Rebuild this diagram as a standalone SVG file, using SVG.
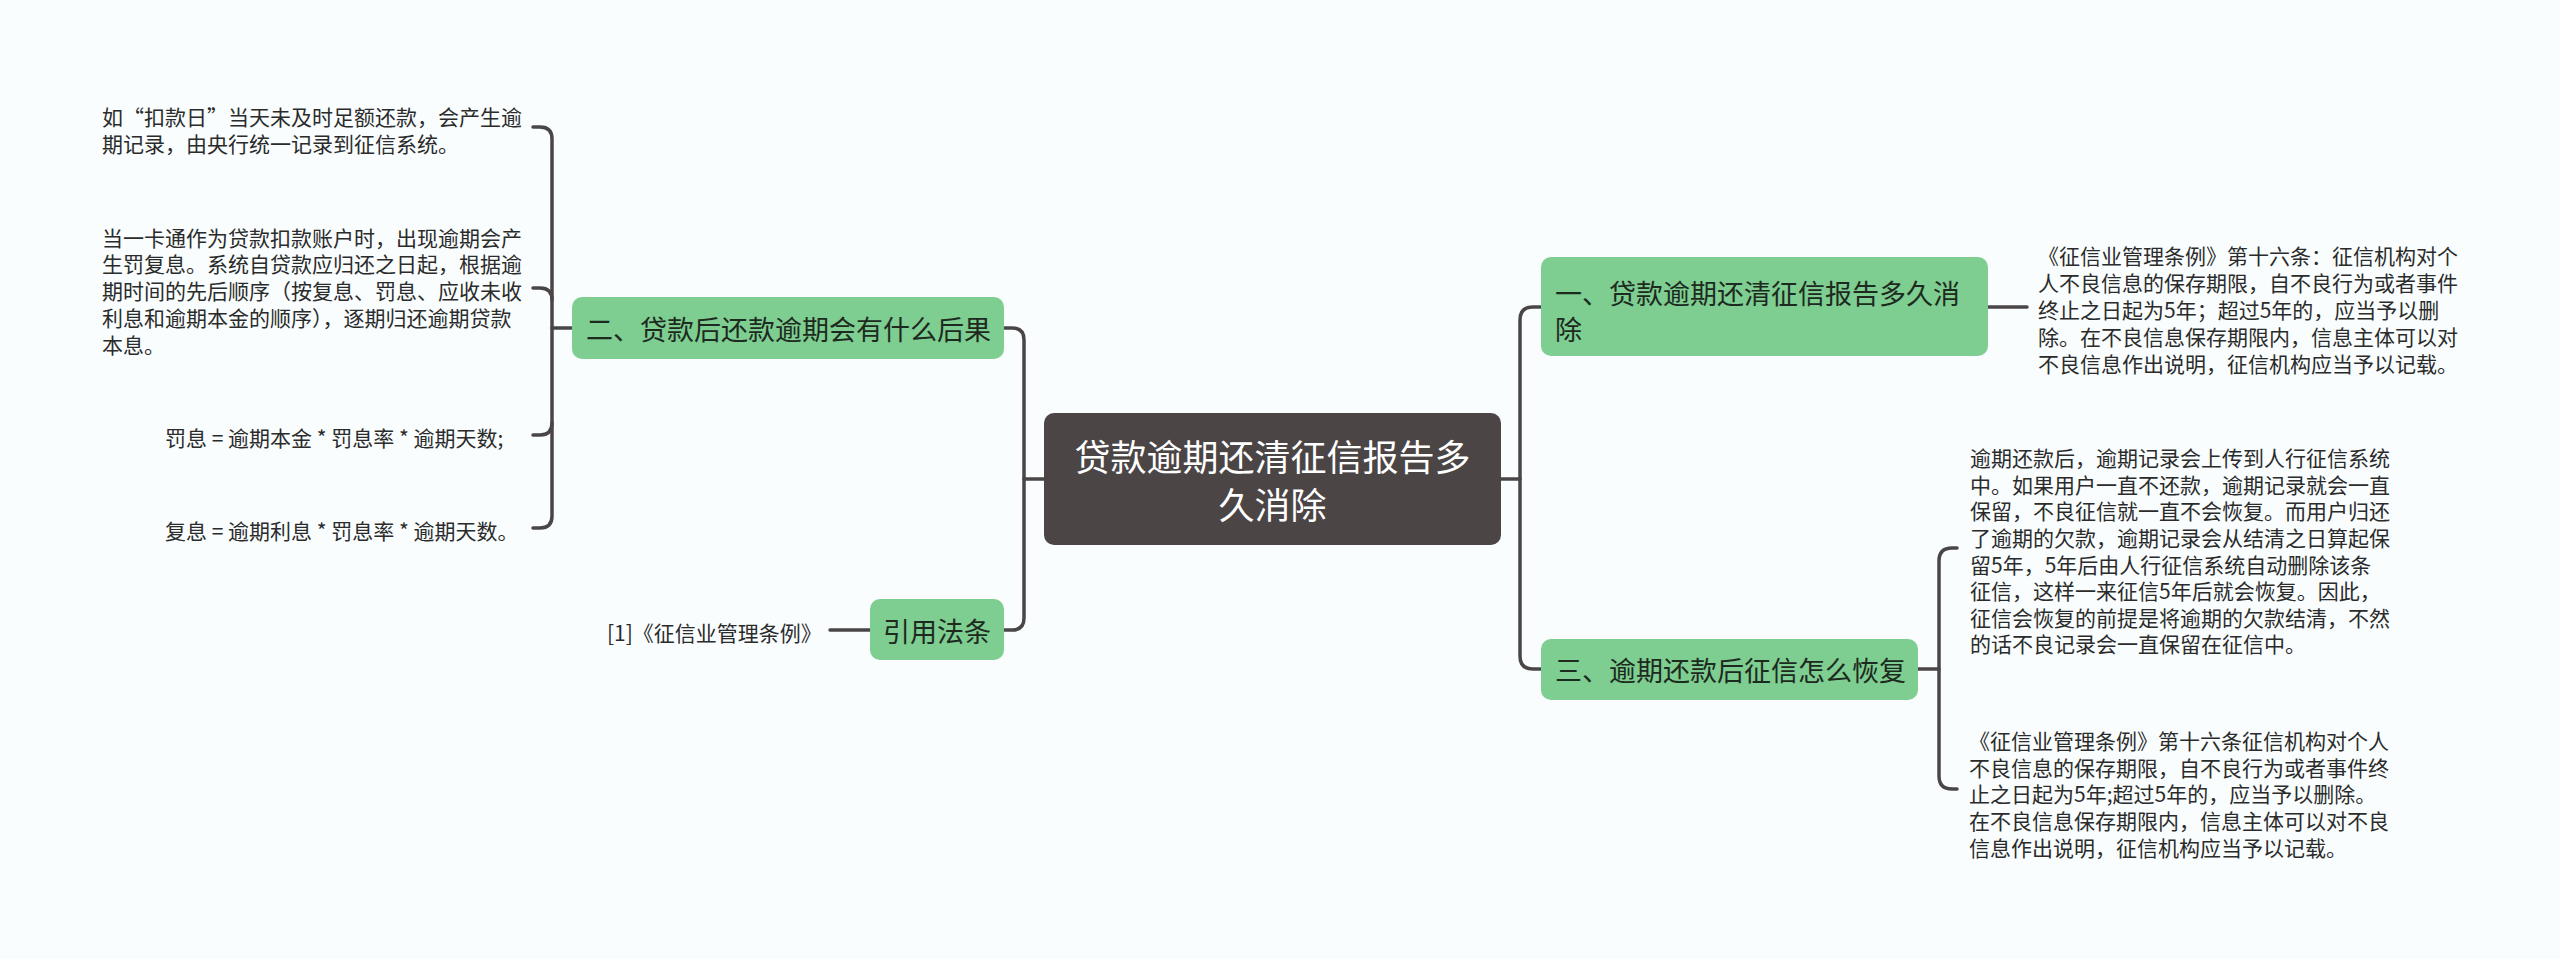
<svg xmlns="http://www.w3.org/2000/svg" width="2560" height="959" viewBox="0 0 2560 959">
<style>
text{font-family:"Noto Sans CJK SC","Noto Sans",sans-serif;dominant-baseline:central}
.leaf{font-size:21px;fill:#2b2b2b}
.sub{font-size:27px;fill:#1d2a20}
.root{font-size:36px;fill:#ffffff}
.gbox{fill:#7ecd91}
.conn{fill:none;stroke:#4a4546;stroke-width:3.5;stroke-linecap:round}
</style>
<rect width="2560" height="959" fill="#f9fdfe"/>
<g id="connectors">
<path class="conn" d="M1004,328 H1012 Q1024,328 1024,340 V618 Q1024,630 1012,630 H1004"/>
<path class="conn" d="M1024,479 H1044"/>
<path class="conn" d="M1541,307 H1533 Q1520,307 1520,320 V656 Q1520,669 1533,669 H1541"/>
<path class="conn" d="M1501,479 H1520"/>
<path class="conn" d="M1988,307 H2027"/>
<path class="conn" d="M1918,669 H1939"/>
<path class="conn" d="M1957,548 H1952 Q1939,548 1939,561 V776 Q1939,789 1952,789 H1957"/>
<path class="conn" d="M572,328 H552"/>
<path class="conn" d="M533,127 H540 Q552,127 552,139 V516 Q552,528 540,528 H533"/>
<path class="conn" d="M533,288 H540 Q552,288 552,300"/>
<path class="conn" d="M533,435 H540 Q552,435 552,423"/>
<path class="conn" d="M830,630 H870"/>
</g>
<g id="root">
<rect x="1044" y="413" width="457" height="132" rx="10" fill="#4b4546"/>
<text class="root" x="1272.5" y="455" text-anchor="middle">贷款逾期还清征信报告多</text>
<text class="root" x="1272.5" y="503" text-anchor="middle">久消除</text>
</g>
<g id="node1">
<rect class="gbox" x="1541" y="257" width="447" height="99" rx="10"/>
<text class="sub" x="1555" y="292">一、贷款逾期还清征信报告多久消</text>
<text class="sub" x="1555" y="328">除</text>
</g>
<g id="node1-text">
<text class="leaf" x="2038" y="255">《征信业管理条例》第十六条：征信机构对个</text>
<text class="leaf" x="2038" y="282">人不良信息的保存期限，自不良行为或者事件</text>
<text class="leaf" x="2038" y="309">终止之日起为5年；超过5年的，应当予以删</text>
<text class="leaf" x="2038" y="336">除。在不良信息保存期限内，信息主体可以对</text>
<text class="leaf" x="2038" y="363">不良信息作出说明，征信机构应当予以记载。</text>
</g>
<g id="node3">
<rect class="gbox" x="1541" y="639" width="377" height="61" rx="10"/>
<text class="sub" x="1555" y="669">三、逾期还款后征信怎么恢复</text>
</g>
<g id="node3-text1">
<text class="leaf" x="1970" y="457">逾期还款后，逾期记录会上传到人行征信系统</text>
<text class="leaf" x="1970" y="484">中。如果用户一直不还款，逾期记录就会一直</text>
<text class="leaf" x="1970" y="510">保留，不良征信就一直不会恢复。而用户归还</text>
<text class="leaf" x="1970" y="537">了逾期的欠款，逾期记录会从结清之日算起保</text>
<text class="leaf" x="1970" y="564">留5年，5年后由人行征信系统自动删除该条</text>
<text class="leaf" x="1970" y="590">征信，这样一来征信5年后就会恢复。因此，</text>
<text class="leaf" x="1970" y="617">征信会恢复的前提是将逾期的欠款结清，不然</text>
<text class="leaf" x="1970" y="643">的话不良记录会一直保留在征信中。</text>
</g>
<g id="node3-text2">
<text class="leaf" x="1969" y="740">《征信业管理条例》第十六条征信机构对个人</text>
<text class="leaf" x="1969" y="767">不良信息的保存期限，自不良行为或者事件终</text>
<text class="leaf" x="1969" y="793">止之日起为5年;超过5年的，应当予以删除。</text>
<text class="leaf" x="1969" y="820">在不良信息保存期限内，信息主体可以对不良</text>
<text class="leaf" x="1969" y="847">信息作出说明，征信机构应当予以记载。</text>
</g>
<g id="node2">
<rect class="gbox" x="572" y="297" width="432" height="62" rx="10"/>
<text class="sub" x="586" y="328">二、贷款后还款逾期会有什么后果</text>
</g>
<g id="node2-text1">
<text class="leaf" x="102" y="116">如“扣款日”当天未及时足额还款，会产生逾</text>
<text class="leaf" x="102" y="143">期记录，由央行统一记录到征信系统。</text>
</g>
<g id="node2-text2">
<text class="leaf" x="102" y="237">当一卡通作为贷款扣款账户时，出现逾期会产</text>
<text class="leaf" x="102" y="263">生罚复息。系统自贷款应归还之日起，根据逾</text>
<text class="leaf" x="102" y="290">期时间的先后顺序（按复息、罚息、应收未收</text>
<text class="leaf" x="102" y="317">利息和逾期本金的顺序），逐期归还逾期贷款</text>
<text class="leaf" x="102" y="344">本息。</text>
</g>
<g id="node2-text3">
<text class="leaf" x="165" y="437">罚息 = 逾期本金 * 罚息率 * 逾期天数;</text>
</g>
<g id="node2-text4">
<text class="leaf" x="165" y="530">复息 = 逾期利息 * 罚息率 * 逾期天数。</text>
</g>
<g id="node4">
<rect class="gbox" x="870" y="599" width="134" height="61" rx="10"/>
<text class="sub" x="883" y="630">引用法条</text>
</g>
<g id="node4-text">
<text class="leaf" x="607" y="632">[1]《征信业管理条例》</text>
</g>
</svg>
